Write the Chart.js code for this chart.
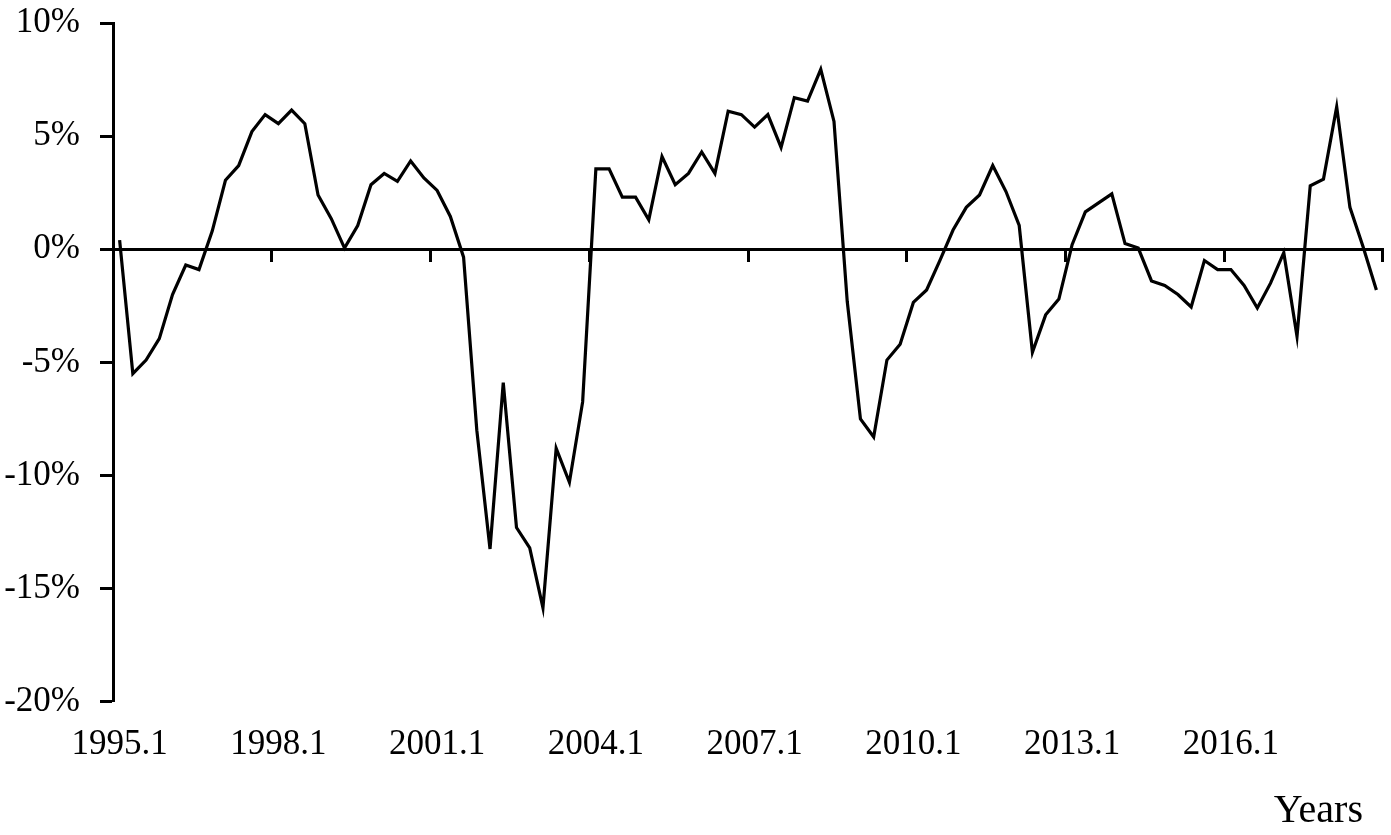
<!DOCTYPE html>
<html>
<head>
<meta charset="utf-8">
<script src="https://cdn.jsdelivr.net/npm/chart.js@4.4.1/dist/chart.umd.min.js"></script>
<style>
  html, body { margin: 0; padding: 0; background: #fff; }
  #wrap { width: 1391px; height: 835px; }
</style>
</head>
<body>
<div id="wrap"><canvas id="chart" width="1391" height="835"></canvas></div>
<script>
"use strict";

// categories
const years = [1995, 1996, 1997, 1998, 1999, 2000, 2001, 2002, 2003, 2004, 2005, 2006,
  2007, 2008, 2009, 2010, 2011, 2012, 2013, 2014, 2015, 2016, 2017, 2018];
const quarters = [1, 2, 3, 4];
const quarterLabels = years.flatMap((y) => quarters.map((q) => y + "." + q));

// tick labels shown on the x axis
const tickLabels = ["1995.1", "1998.1", "2001.1", "2004.1", "2007.1", "2010.1", "2013.1", "2016.1"];

// y axis
const yMin = -20;
const yMax = 10;
const yStep = 5;

// series (%), one value per quarter
const growth = [
  0.4, -5.5, -4.9, -3.95, -2.0, -0.7, -0.9, 0.8,
  3.05, 3.7, 5.2, 5.95, 5.55, 6.15, 5.55, 2.4,
  1.35, 0.05, 1.05, 2.85, 3.35, 3.0, 3.9, 3.15,
  2.6, 1.45, -0.35, -8.0, -13.25, -5.9, -12.3, -13.2,
  -15.85, -8.8, -10.3, -6.75, 3.55, 3.55, 2.3, 2.3,
  1.3, 4.1, 2.85, 3.35, 4.3, 3.35, 6.1, 5.95,
  5.4, 5.95, 4.5, 6.7, 6.55, 7.95, 5.65, -2.3,
  -7.5, -8.3, -4.9, -4.2, -2.35, -1.8, -0.5, 0.85,
  1.85, 2.4, 3.7, 2.55, 1.05, -4.55, -2.9, -2.2,
  0.2, 1.65, 2.05, 2.45, 0.25, 0.05, -1.4, -1.6,
  -2.0, -2.55, -0.5, -0.9, -0.9, -1.6, -2.6, -1.5,
  -0.15, -3.85, 2.8, 3.1, 6.3, 1.85, 0.1, -1.8
];

const serif = "'Liberation Serif', 'Times New Roman', serif";
const black = "#000";

const ctx = document.getElementById("chart").getContext("2d");

const chart = new Chart(ctx, {
  type: "line",
  data: {
    labels: quarterLabels,
    datasets: [{
      data: growth,
      borderColor: black,
      borderWidth: 3.2,
      pointRadius: 0,
      tension: 0,
      fill: false,
      xAxisID: "x",
      yAxisID: "y"
    }]
  },
  options: {
    responsive: false,
    animation: false,
    layout: { padding: { left: 0, right: 8, top: 23, bottom: 0 } },
    plugins: {
      legend: { display: false },
      tooltip: { enabled: false }
    },
    scales: {
      // axis line through 0% with the small tick marks
      x: {
        type: "category",
        position: { y: 0 },
        offset: true,
        grid: {
          display: true,
          drawOnChartArea: false,
          offset: true,
          drawTicks: true,
          tickLength: 11,
          tickWidth: 3,
          tickColor: (c) => (c.index === undefined || c.index % 12 === 0) ? black : "rgba(0,0,0,0)"
        },
        border: { display: true, color: black, width: 3 },
        ticks: { display: false },
        afterFit: (s) => { s.height = 0; }
      },
      // labels at the bottom
      x2: {
        type: "category",
        labels: quarterLabels,
        position: "bottom",
        offset: true,
        grid: { display: false, drawTicks: false },
        border: { display: false },
        ticks: {
          autoSkip: false,
          maxRotation: 0,
          padding: 22,
          color: black,
          font: { family: serif, size: 35 },
          callback: function (v) {
            const l = this.getLabelForValue(v);
            return tickLabels.includes(l) ? l : "";
          }
        },
        title: {
          display: true,
          text: "Years\u2002",
          align: "end",
          color: black,
          font: { family: serif, size: 40 },
          padding: { top: 0, bottom: 0 }
        },
        afterFit: (s) => { s.height = 835 - 701.7; s.paddingLeft = 0; s.paddingRight = 0; }
      },
      y: {
        min: yMin,
        max: yMax,
        ticks: {
          stepSize: yStep,
          padding: 20,
          color: black,
          font: { family: serif, size: 35 },
          callback: (v) => v + "%"
        },
        grid: {
          drawOnChartArea: false,
          tickLength: 13,
          tickWidth: 3,
          tickColor: black
        },
        border: { color: black, width: 3 },
        afterFit: (s) => { s.width = 113; s.paddingTop = 0; s.paddingBottom = 0; }
      }
    }
  }
});
</script>
</body>
</html>
